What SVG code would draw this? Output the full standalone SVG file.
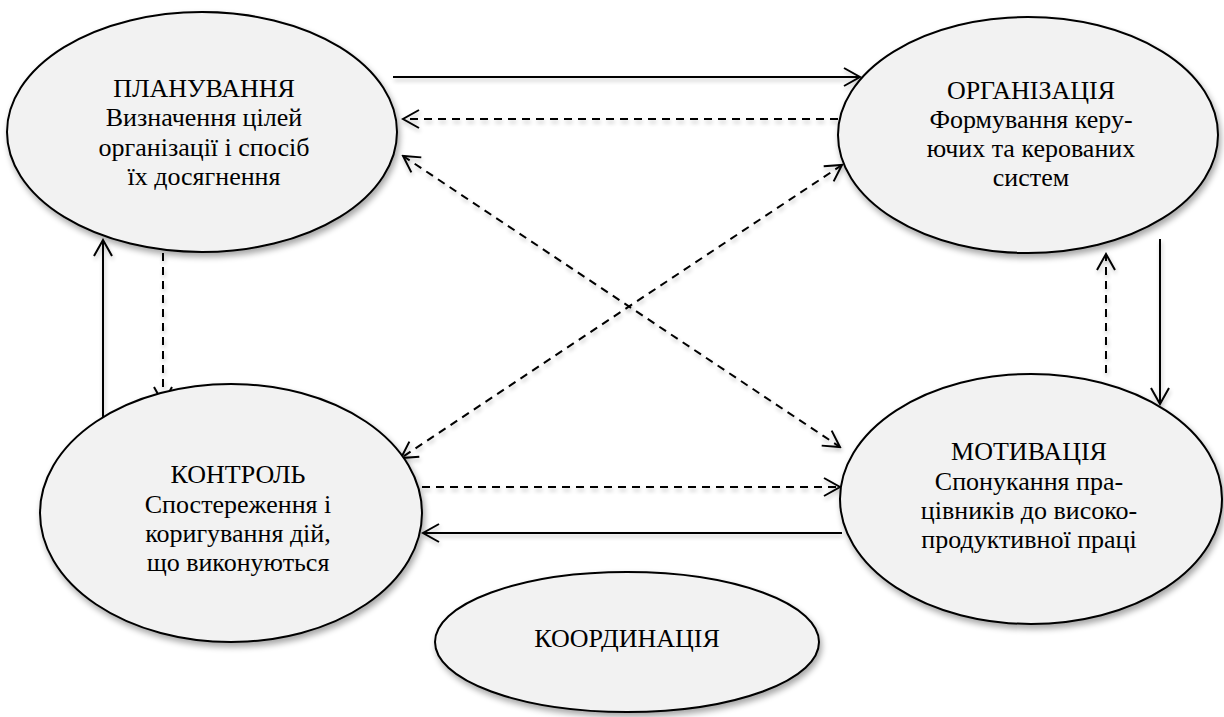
<svg xmlns="http://www.w3.org/2000/svg" width="1224" height="717" viewBox="0 0 1224 717">
<style>
.node{fill:#f2f2f2;stroke:#000;stroke-width:2;filter:url(#sh)}
.t{font-family:'Liberation Serif','Times New Roman','DejaVu Serif',serif;font-size:26px;fill:#000;text-anchor:middle}
.c{fill:none;stroke:#000;stroke-width:2;filter:url(#sh2)}
.d{stroke-dasharray:8 6}
</style>
<defs>
<filter id="sh" x="-10%" y="-10%" width="125%" height="130%">
<feGaussianBlur in="SourceAlpha" stdDeviation="3"/>
<feOffset dx="2" dy="4" result="b"/>
<feComponentTransfer><feFuncA type="linear" slope="0.35"/></feComponentTransfer>
<feMerge><feMergeNode/><feMergeNode in="SourceGraphic"/></feMerge>
</filter>
<filter id="sh2" filterUnits="userSpaceOnUse" x="0" y="0" width="1224" height="717">
<feGaussianBlur in="SourceAlpha" stdDeviation="2"/>
<feOffset dx="1" dy="3" result="b"/>
<feComponentTransfer><feFuncA type="linear" slope="0.25"/></feComponentTransfer>
<feMerge><feMergeNode/><feMergeNode in="SourceGraphic"/></feMerge>
</filter>
<marker id="a" viewBox="0 0 20 20" refX="18" refY="10" markerWidth="20" markerHeight="20" markerUnits="userSpaceOnUse" orient="auto-start-reverse">
<path d="M2,1 L18,10 L2,19" fill="none" stroke="#000" stroke-width="2"/>
</marker>
</defs>
<g id="connectors">
<line class="c" x1="393" y1="77" x2="860" y2="77" marker-end="url(#a)"/>
<line class="c d" x1="838" y1="119" x2="403" y2="119" marker-end="url(#a)"/>
<line class="c d" x1="403" y1="156" x2="840" y2="447" marker-start="url(#a)" marker-end="url(#a)"/>
<line class="c d" x1="842" y1="165" x2="401" y2="458" marker-start="url(#a)" marker-end="url(#a)"/>
<line class="c" x1="103" y1="420" x2="103" y2="240" marker-end="url(#a)"/>
<line class="c d" x1="163" y1="253" x2="163" y2="403" marker-end="url(#a)"/>
<line class="c d" x1="1106" y1="373" x2="1106" y2="254" marker-end="url(#a)"/>
<line class="c" x1="1160" y1="239" x2="1160" y2="404" marker-end="url(#a)"/>
<line class="c d" x1="422" y1="487" x2="840" y2="487" marker-end="url(#a)"/>
<line class="c" x1="842" y1="533" x2="423" y2="533" marker-end="url(#a)"/>
</g>
<g id="planning">
<ellipse class="node" cx="202" cy="132" rx="195" ry="120"/>
<text class="t" x="204" y="97">ПЛАНУВАННЯ</text>
<text class="t" x="204" y="126">Визначення цілей</text>
<text class="t" x="204" y="156">організації і спосіб</text>
<text class="t" x="204" y="185">їх досягнення</text>
</g>
<g id="organization">
<ellipse class="node" cx="1028" cy="135" rx="190" ry="118"/>
<text class="t" x="1031" y="99">ОРГАНІЗАЦІЯ</text>
<text class="t" x="1031" y="128">Формування керу-</text>
<text class="t" x="1031" y="157">ючих та керованих</text>
<text class="t" x="1031" y="186">систем</text>
</g>
<g id="control">
<ellipse class="node" cx="231" cy="513" rx="191" ry="129"/>
<text class="t" x="238" y="483">КОНТРОЛЬ</text>
<text class="t" x="238" y="513">Спостереження і</text>
<text class="t" x="238" y="542">коригування дій,</text>
<text class="t" x="238" y="571">що виконуються</text>
</g>
<g id="motivation">
<ellipse class="node" cx="1031" cy="499" rx="191" ry="125"/>
<text class="t" x="1029" y="460">МОТИВАЦІЯ</text>
<text class="t" x="1029" y="490">Спонукання пра-</text>
<text class="t" x="1029" y="519">цівників до високо-</text>
<text class="t" x="1029" y="548">продуктивної праці</text>
</g>
<g id="coordination">
<ellipse class="node" cx="627" cy="642" rx="192" ry="70"/>
<text class="t" x="627" y="647">КООРДИНАЦІЯ</text>
</g>
</svg>
